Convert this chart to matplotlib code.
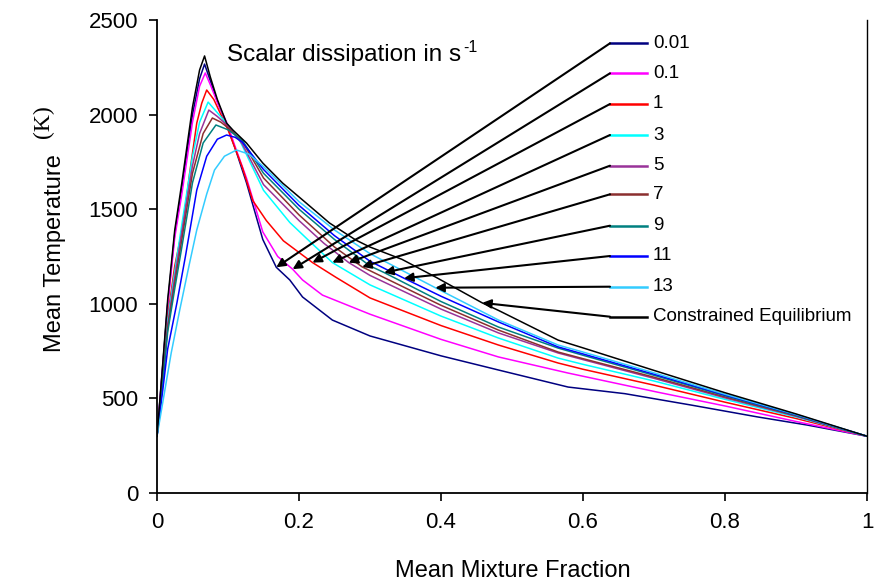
import numpy as np
import matplotlib
matplotlib.use("Agg")
import matplotlib.pyplot as plt

plt.rcParams['font.family'] = ['Liberation Sans', 'DejaVu Sans']

labels = ["0.01", "0.1", "1", "3", "5", "7", "9", "11", "13", "Constrained Equilibrium"]
colors = ["#000080", "#FF00FF", "#FF0000", "#00FFFF", "#993399", "#8B2F2F",
          "#008080", "#0000FF", "#33CCFF", "#000000"]

navy_x = [0, 0.008, 0.015, 0.025, 0.035, 0.05, 0.06, 0.067, 0.075, 0.085, 0.098, 0.112, 0.126, 0.149, 0.168, 0.187, 0.205, 0.247, 0.3, 0.4, 0.481, 0.579, 0.659, 0.752, 0.846, 0.916, 1]
navy_T = [300, 670, 1000, 1370, 1610, 2000, 2190, 2267, 2180, 2070, 1950, 1800, 1640, 1340, 1193, 1126, 1036, 914, 830, 725, 650, 560, 525, 465, 402, 359, 300]

magenta_x = [0, 0.008, 0.015, 0.025, 0.035, 0.05, 0.06, 0.068, 0.076, 0.086, 0.098, 0.112, 0.126, 0.149, 0.17, 0.191, 0.205, 0.233, 0.3, 0.4, 0.481, 0.579, 0.705, 0.8, 0.9, 1]
magenta_T = [300, 660, 990, 1350, 1580, 1960, 2150, 2220, 2150, 2055, 1960, 1810, 1665, 1380, 1250, 1183, 1126, 1046, 945, 812, 719, 634, 533, 460, 378, 300]

red_x = [0, 0.008, 0.015, 0.025, 0.037, 0.046, 0.056, 0.063, 0.070, 0.08, 0.09, 0.1, 0.12, 0.135, 0.154, 0.178, 0.219, 0.252, 0.3, 0.4, 0.481, 0.565, 0.6, 0.7, 0.8, 0.9, 1]
red_T = [300, 620, 930, 1200, 1420, 1691, 1955, 2060, 2130, 2080, 2000, 1920, 1723, 1545, 1440, 1333, 1218, 1140, 1031, 885, 782, 687, 654, 570, 480, 394, 300]

cyan3_x = [0, 0.008, 0.015, 0.025, 0.035, 0.05, 0.06, 0.072, 0.085, 0.1, 0.117, 0.15, 0.187, 0.215, 0.247, 0.3, 0.4, 0.481, 0.565, 0.6, 0.7, 0.8, 0.9, 1]
cyan3_T = [300, 610, 910, 1170, 1420, 1780, 1960, 2066, 2010, 1945, 1860, 1600, 1430, 1330, 1218, 1100, 935, 819, 713, 680, 592, 495, 402, 300]

purple_x = [0, 0.008, 0.015, 0.025, 0.035, 0.05, 0.06, 0.073, 0.085, 0.1, 0.12, 0.15, 0.2, 0.235, 0.27, 0.3, 0.4, 0.481, 0.565, 0.6, 0.7, 0.8, 0.9, 1]
purple_T = [300, 600, 890, 1140, 1380, 1730, 1900, 2024, 1990, 1940, 1845, 1630, 1440, 1320, 1218, 1150, 972, 846, 740, 705, 606, 503, 406, 300]

brown_x = [0, 0.008, 0.015, 0.025, 0.035, 0.05, 0.065, 0.078, 0.09, 0.1, 0.12, 0.15, 0.2, 0.25, 0.289, 0.3, 0.4, 0.481, 0.565, 0.6, 0.7, 0.8, 0.9, 1]
brown_T = [300, 590, 870, 1110, 1340, 1690, 1900, 1982, 1960, 1930, 1860, 1665, 1470, 1300, 1195, 1175, 992, 861, 745, 710, 612, 508, 408, 300]

teal_x = [0, 0.008, 0.015, 0.025, 0.035, 0.05, 0.065, 0.083, 0.1, 0.12, 0.15, 0.2, 0.25, 0.3, 0.32, 0.4, 0.481, 0.565, 0.6, 0.7, 0.8, 0.9, 1]
teal_T = [300, 580, 850, 1080, 1300, 1640, 1850, 1945, 1920, 1865, 1690, 1500, 1340, 1200, 1165, 1012, 877, 766, 728, 622, 514, 411, 300]

blue_x = [0, 0.008, 0.015, 0.028, 0.04, 0.056, 0.07, 0.085, 0.098, 0.11, 0.12, 0.15, 0.2, 0.25, 0.3, 0.348, 0.4, 0.481, 0.565, 0.6, 0.7, 0.8, 0.9, 1]
blue_T = [300, 540, 760, 1004, 1250, 1601, 1780, 1870, 1892, 1880, 1855, 1710, 1520, 1360, 1225, 1135, 1040, 904, 772, 735, 628, 518, 413, 300]

sky_x = [0, 0.01, 0.02, 0.032, 0.045, 0.056, 0.07, 0.081, 0.095, 0.112, 0.13, 0.15, 0.2, 0.25, 0.3, 0.392, 0.481, 0.565, 0.6, 0.7, 0.8, 0.9, 1]
sky_T = [300, 520, 740, 967, 1200, 1390, 1580, 1707, 1780, 1813, 1790, 1725, 1540, 1390, 1265, 1085, 914, 782, 745, 635, 522, 415, 300]

ce_x = [0, 0.008, 0.015, 0.025, 0.035, 0.05, 0.06, 0.067, 0.075, 0.085, 0.098, 0.107, 0.126, 0.149, 0.177, 0.21, 0.243, 0.28, 0.3, 0.345, 0.393, 0.458, 0.481, 0.565, 0.6, 0.7, 0.8, 0.9, 1]
ce_T = [300, 680, 1020, 1390, 1640, 2040, 2236, 2310, 2200, 2080, 1955, 1918, 1850, 1744, 1638, 1533, 1427, 1337, 1300, 1235, 1140, 1005, 965, 808, 767, 648, 530, 418, 300]

# x positions along each curve where the legend arrows point
arrow_x = [0.168, 0.191, 0.219, 0.247, 0.270, 0.289, 0.32, 0.348, 0.392, 0.458]

xticks = [0, 0.2, 0.4, 0.6, 0.8, 1]
xtick_labels = ["0", "0.2", "0.4", "0.6", "0.8", "1"]
yticks = [0, 500, 1000, 1500, 2000, 2500]

series = [(navy_x, navy_T), (magenta_x, magenta_T), (red_x, red_T), (cyan3_x, cyan3_T),
          (purple_x, purple_T), (brown_x, brown_T), (teal_x, teal_T), (blue_x, blue_T),
          (sky_x, sky_T), (ce_x, ce_T)]

W, H = 874, 581
fig = plt.figure(figsize=(W / 100, H / 100), dpi=100)
L, R, B, T = 157, 867, 493, 20
ax = fig.add_axes([L / W, (H - B) / H, (R - L) / W, (B - T) / H])

for (xs, ys), c in zip(series, colors):
    ax.plot(xs, ys, color=c, lw=1.1, solid_joinstyle='round',
            zorder=3 if c == "#000000" else 2)

ax.set_xlim(0, 1)
ax.set_ylim(0, 2500)
ax.set_xticks(xticks)
ax.set_xticklabels(xtick_labels)
ax.set_yticks(yticks)
ax.tick_params(direction='out', length=5.5, width=1.2, labelsize=16)
ax.tick_params(axis='x', pad=8)
ax.tick_params(axis='y', pad=8)
for s in ['left', 'bottom']:
    ax.spines[s].set_linewidth(1.3)
ax.spines['top'].set_visible(False)
ax.spines['right'].set_linewidth(1.0)

fig.text(513 / W, 1 - 577 / H, "Mean Mixture Fraction", fontsize=17,
         ha='center', va='baseline')
fig.text(55 / W, 1 - 253 / H, "Mean Temperature", rotation=90, fontsize=17,
         ha='center', va='center')
fig.text(43 / W, 1 - 122 / H, "(K)", rotation=90, fontsize=17,
         ha='center', va='center', family=['Liberation Serif', 'DejaVu Serif'])

title = fig.text(227 / W, 1 - 61 / H, "Scalar dissipation in s", fontsize=17.5,
                 ha='left', va='baseline')
fig.canvas.draw()
bb = title.get_window_extent(renderer=fig.canvas.get_renderer())
fig.text((bb.x1 + 2) / W, 1 - 52 / H, "-1", fontsize=11.5, ha='left', va='baseline')

def fx(px):
    return (px - L) / (R - L)

def fy(py):
    return (B - py) / (B - T)

entry_y = [43.3, 73.3, 104, 135, 165.7, 194.3, 225.7, 256, 286.7, 316.7]
for i, ((xs, ys), c, lab) in enumerate(zip(series, colors, labels)):
    yy = fy(entry_y[i])
    ax.plot([fx(610), fx(647)], [yy, yy], color=c, lw=1.8, transform=ax.transAxes,
            clip_on=False, zorder=4)
    ax.text(fx(653), yy, lab, transform=ax.transAxes, fontsize=13.5, ha='left', va='center')
    tx = arrow_x[i]
    ty = float(np.interp(tx, xs, ys))
    ax.annotate("", xy=(tx, ty), xycoords='data', xytext=(fx(610), yy),
                textcoords='axes fraction',
                arrowprops=dict(arrowstyle='-|>', color='black', lw=1.5, mutation_scale=13,
                                shrinkA=0, shrinkB=0), zorder=5)

fig.savefig("out.png", dpi=100)
